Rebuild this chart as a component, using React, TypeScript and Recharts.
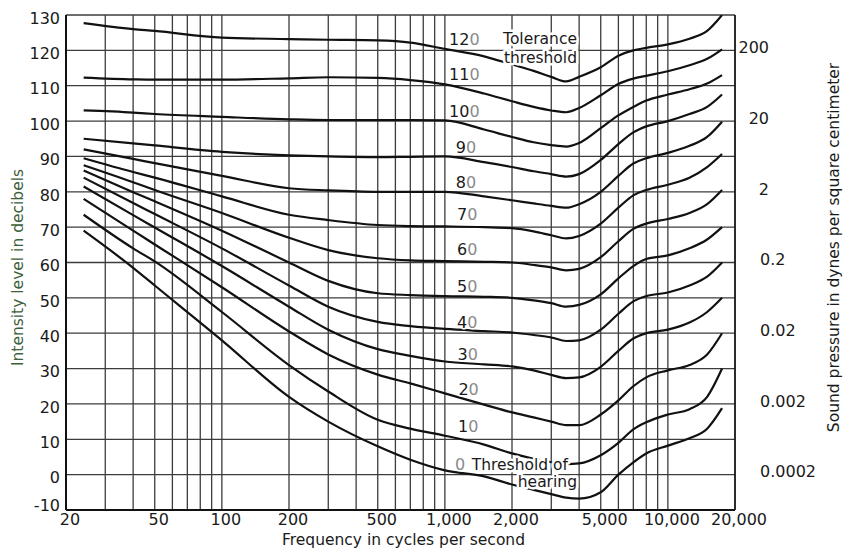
import React from 'react';
import { LineChart, Line, XAxis, YAxis, CartesianGrid, ReferenceDot, Label } from 'recharts';

// Frequencies (Hz) at which the equal-loudness curves were read
const freqs = [24, 40, 50, 100, 200, 300, 500, 700, 1000, 1500, 2000, 2500, 3000, 3500, 4000, 5000, 6000, 7000, 8000, 10000, 12500, 15000, 17500];

// Intensity level (dB) of each loudness-level curve
const phon120 = [127.7, 126, 125.5, 123.6, 123.2, 123, 122.8, 122.2, 120.4, 118.3, 116, 114.2, 112.5, 111.2, 112.5, 115.2, 118.5, 120, 120.7, 121.7, 123.3, 125.5, 130];
const phon110 = [112.3, 111.8, 111.7, 111.7, 112.1, 112.4, 112.2, 111.6, 110.4, 107.8, 105.6, 104, 103, 102.5, 103.7, 107.3, 110.5, 112, 112.8, 114.1, 115.8, 117.6, 120.3];
const phon100 = [103, 102.4, 102, 101.2, 100.5, 100.3, 100.3, 100.3, 100.2, 97.6, 95.5, 94, 93.2, 92.8, 93.8, 98, 101.6, 104, 105.8, 107.5, 109, 110.6, 113];
const phon90 = [95, 93.7, 93.1, 91.3, 90.3, 90, 89.8, 89.9, 90, 88.4, 87, 85.8, 85, 84.3, 85, 89, 93.5, 96.8, 98.5, 100, 102, 104, 107.5];
const phon80 = [92, 89.3, 88.1, 84.5, 81, 80.4, 80, 80, 80, 78.7, 77.6, 76.7, 76, 75.5, 76.5, 80, 84.5, 88, 89.5, 91, 93, 95.5, 99.8];
const phon70 = [89.5, 85.6, 84, 78.7, 73.5, 72, 70.6, 70.3, 70.2, 70, 69.7, 68.8, 67.7, 66.8, 67.5, 71, 75.5, 79, 80.5, 82, 84, 87, 90.7];
const phon60 = [87.5, 82.7, 80.5, 74, 67, 63.5, 61.2, 60.6, 60.4, 60.2, 60, 59.3, 58.6, 57.8, 58.2, 61.5, 66, 69.5, 71, 72.3, 74, 76.5, 80.5];
const phon50 = [86, 79.9, 77.3, 69, 60, 54.8, 51.3, 50.8, 50.5, 50.3, 50, 49.3, 48.5, 47.5, 48, 51, 55.5, 59, 61, 62, 64, 66.5, 70];
const phon40 = [84, 76.8, 73.7, 64, 53.5, 47.5, 43.2, 42, 41.2, 40.6, 40.2, 39.5, 38.8, 37.8, 38, 41, 45.5, 49, 50.5, 51.5, 53.5, 56, 60];
const phon30 = [81.5, 73.4, 69.9, 59, 47.5, 41, 35.5, 33.6, 32, 31.2, 30.6, 29.5, 28.2, 27.3, 27.5, 30.5, 35, 38.5, 40, 41, 43, 46, 50];
const phon20 = [78, 69, 65.1, 53, 40.5, 34, 28.3, 25.8, 23, 19.8, 17.6, 16.2, 15, 14, 14, 17, 21, 25, 27.5, 29.5, 31, 34, 40];
const phon10 = [73.5, 64, 60.3, 46, 31, 23.5, 15.5, 13, 11, 8.5, 6, 4.5, 3.5, 3, 3.2, 5.5, 9, 12.8, 14.8, 17, 18.5, 22, 30];
const phon0 = [69, 58.5, 53.5, 38, 22, 15, 8, 4.2, 1.2, -0.5, -2.8, -4.3, -5.5, -6.5, -6.8, -5, 0, 3.5, 6, 8.2, 10.3, 13, 18.8];

const phonLevels = [0, 10, 20, 30, 40, 50, 60, 70, 80, 90, 100, 110, 120];
const phonSeries = [phon0, phon10, phon20, phon30, phon40, phon50, phon60, phon70, phon80, phon90, phon100, phon110, phon120];

// Axis ticks
const gridFreqs = [20, 30, 40, 50, 60, 70, 80, 90, 100, 200, 300, 400, 500, 600, 700, 800, 900, 1000, 2000, 3000, 4000, 5000, 6000, 7000, 8000, 9000, 10000, 20000];
const xLabelValues = [20, 50, 100, 200, 500, 1000, 2000, 5000, 10000, 20000];
const xLabelTexts = ['20', '50', '100', '200', '500', '1,000', '2,000', '5,000', '10,000', '20,000'];
const dbTicks = [-10, 0, 10, 20, 30, 40, 50, 60, 70, 80, 90, 100, 110, 120, 130];
const pressureLevels = [120, 100, 80, 60, 40, 20, 0];
const pressureLabels = ['200', '20', '2', '0.2', '0.02', '0.002', '0.0002'];

// Curve labels (text, anchor frequency, level)
const curveLabelTexts = ['120', '110', '100', '90', '80', '70', '60', '50', '40', '30', '20', '10', '0'];
const curveLabelFreqs = [1044, 1044, 1044, 1120, 1120, 1133, 1133, 1133, 1133, 1140, 1150, 1145, 1111];
const curveLabelDbs = [123.2, 113.3, 102.9, 92.7, 82.8, 73.7, 63.8, 53.4, 43.2, 34.1, 24.2, 13.8, 3.0];

const noteTexts = ['Tolerance', 'threshold', 'Threshold of', 'hearing'];
const noteFreqs = [3912, 3912, 3566, 3912];
const noteDbs = [123.5, 118.1, 3.0, -1.8];

const FONT = '"DejaVu Sans", sans-serif';
const INK = '#1a1a1a';

const rows = freqs.map((f, i) => {
  const row: Record<string, number> = { f };
  phonLevels.forEach((p, k) => {
    row['p' + p] = phonSeries[k][i];
  });
  return row;
});

const renderFreqTick = (props: any) => {
  const { x, y, payload } = props;
  const v = Number(payload && payload.value);
  const i = xLabelValues.indexOf(v);
  if (i < 0) return <g key={'ft' + v} />;
  return (
    <text key={'ft' + v} x={Number(x) + 4} y={Number(y)} dy="0.71em" textAnchor="middle" fontFamily={FONT} fontSize={16} fill={INK}>
      {xLabelTexts[i]}
    </text>
  );
};

const renderPressureTick = (props: any) => {
  const { x, y, payload } = props;
  const idx = pressureLevels.indexOf(Number(payload && payload.value));
  const text = idx >= 0 ? pressureLabels[idx] : '';
  const decimal = text.indexOf('.') >= 0;
  return (
    <text
      key={'pt' + idx}
      x={decimal ? Number(x) + 17 : Number(x) + 26}
      y={Number(y) - 3}
      dy="0.36em"
      textAnchor={decimal ? 'start' : 'end'}
      fontFamily={FONT}
      fontSize={16}
      fill={INK}
    >
      {text}
    </text>
  );
};

const renderDbTick = (props: any) => {
  const { x, y, payload } = props;
  const v = Number(payload && payload.value);
  const shift = v === dbTicks[0] ? -5 : 3;
  return (
    <text key={'db' + v} x={Number(x)} y={Number(y) + shift} dy="0.36em" textAnchor="end" fontFamily={FONT} fontSize={16} fill={INK}>
      {String(v)}
    </text>
  );
};

const LeftTitle = (props: any) => {
  const vb = props.viewBox || { x: 0, y: 15, width: 66, height: 495 };
  const cx = vb.x + 18;
  const cy = vb.y + vb.height / 2 + 5;
  return (
    <text x={cx} y={cy} transform={`rotate(-90 ${cx} ${cy})`} textAnchor="middle" dominantBaseline="central"
      fontFamily={FONT} fontSize={15.5} fill="#3d6139">
      Intensity level in decibels
    </text>
  );
};

const RightTitle = (props: any) => {
  const vb = props.viewBox || { x: 735, y: 15, width: 108, height: 495 };
  const cx = vb.x + 99;
  const cy = vb.y + vb.height / 2 - 15;
  return (
    <text x={cx} y={cy} transform={`rotate(-90 ${cx} ${cy})`} textAnchor="middle" dominantBaseline="central"
      fontFamily={FONT} fontSize={15.5} fill={INK}>
      Sound pressure in dynes per square centimeter
    </text>
  );
};

const BottomTitle = (props: any) => {
  const vb = props.viewBox || { x: 66, y: 510, width: 669, height: 39 };
  const cx = vb.x + vb.width / 2 + 3;
  const cy = vb.y + 30;
  return (
    <text x={cx} y={cy} textAnchor="middle" dominantBaseline="central" fontFamily={FONT} fontSize={15.5} fill={INK}>
      Frequency in cycles per second
    </text>
  );
};

const makeCurveLabel = (text: string) => (props: any) => {
  const vb = props.viewBox || {};
  const x = vb.x ?? vb.cx ?? 0;
  const y = vb.y ?? vb.cy ?? 0;
  const head = text.length > 1 ? text.slice(0, -1) : '';
  const tail = text.slice(-1);
  return (
    <text x={x} y={y} dy="0.36em" textAnchor="start" fontFamily={FONT} fontSize={16}
      stroke="#fff" strokeWidth={3} paintOrder="stroke" strokeLinejoin="round">
      {head ? <tspan fill={INK}>{head}</tspan> : null}
      <tspan fill="#8a8a8a">{tail}</tspan>
    </text>
  );
};

const makeNote = (text: string) => (props: any) => {
  const vb = props.viewBox || {};
  const x = vb.x ?? vb.cx ?? 0;
  const y = vb.y ?? vb.cy ?? 0;
  return (
    <text x={x} y={y} dy="0.36em" textAnchor="end" fontFamily={FONT} fontSize={15.5} fill={INK}
      stroke="#fff" strokeWidth={5} paintOrder="stroke" strokeLinejoin="round">
      {text}
    </text>
  );
};

export default function App() {
  return (
    <div style={{ position: 'absolute', left: 0, top: 0, width: 843, height: 549, background: '#fff' }}>
      <LineChart width={843} height={549} data={rows} margin={{ top: 15, right: 0, bottom: 0, left: 0 }}>
        <CartesianGrid stroke="#3c3c3c" strokeWidth={1.3} />
        <XAxis
          dataKey="f"
          type="number"
          scale="log"
          domain={[20, 20000]}
          allowDataOverflow
          ticks={gridFreqs}
          interval={0}
          tickLine={false}
          tickSize={2}
          tickMargin={2}
          height={39}
          axisLine={{ stroke: '#111', strokeWidth: 2 }}
          tick={renderFreqTick}
          label={<Label content={BottomTitle} />}
        />
        <YAxis
          type="number"
          domain={[-10, 130]}
          allowDataOverflow
          ticks={dbTicks}
          interval={0}
          width={66}
          tickLine={false}
          tickSize={6}
          tickMargin={0}
          axisLine={{ stroke: '#111', strokeWidth: 2 }}
          tick={renderDbTick}
          label={<Label content={LeftTitle} />}
        />
        <YAxis
          yAxisId="right"
          orientation="right"
          type="number"
          domain={[-10, 130]}
          allowDataOverflow
          ticks={pressureLevels}
          interval={0}
          width={108}
          tickLine={false}
          tickSize={6}
          tickMargin={2}
          axisLine={{ stroke: '#111', strokeWidth: 1.5 }}
          tick={renderPressureTick}
          label={<Label content={RightTitle} />}
        />
        <Line yAxisId="right" dataKey="p0" stroke="none" dot={false} activeDot={false} legendType="none" isAnimationActive={false} />
        {phonLevels.map((p) => (
          <Line
            key={p}
            dataKey={'p' + p}
            type="monotone"
            stroke="#111"
            strokeWidth={2.2}
            dot={false}
            activeDot={false}
            isAnimationActive={false}
          />
        ))}
        {curveLabelTexts.map((t, i) => (
          <ReferenceDot key={'cl' + t} x={curveLabelFreqs[i]} y={curveLabelDbs[i]} r={0} stroke="none" fill="none">
            <Label content={makeCurveLabel(t)} />
          </ReferenceDot>
        ))}
        {noteTexts.map((t, i) => (
          <ReferenceDot key={'n' + t} x={noteFreqs[i]} y={noteDbs[i]} r={0} stroke="none" fill="none">
            <Label content={makeNote(t)} />
          </ReferenceDot>
        ))}
      </LineChart>
    </div>
  );
}
